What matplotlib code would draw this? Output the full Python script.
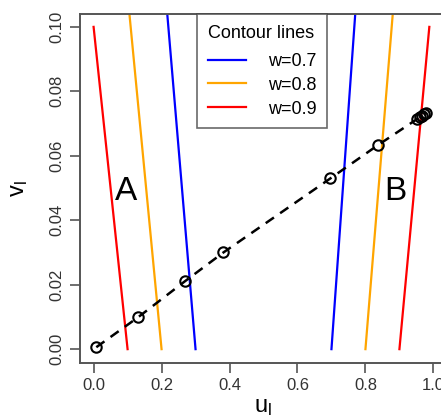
import numpy as np
import matplotlib
matplotlib.use('Agg')
import matplotlib.pyplot as plt

plt.rcParams['font.family'] = ['Liberation Sans', 'DejaVu Sans']

# path points (open circles on dashed line)
u_pts = [0.008, 0.131, 0.268, 0.382, 0.697, 0.838, 0.952, 0.960, 0.966, 0.972, 0.977]
v_pts = [0.0006, 0.0099, 0.021, 0.030, 0.053, 0.0634, 0.0714, 0.0720, 0.0725, 0.0729, 0.0733]

# contour lines: u at the given v ends
v_long = [0.0, 0.11]
v_short = [0.0, 0.10]
levels = ['w=0.7', 'w=0.8', 'w=0.9']
colors = ['#0000FF', '#FFA500', '#FF0000']
u_left = {'w=0.7': [0.30, 0.212], 'w=0.8': [0.20, 0.100], 'w=0.9': [0.10, 0.0]}
u_right = {'w=0.7': [0.70, 0.774], 'w=0.8': [0.80, 0.885], 'w=0.9': [0.90, 0.988]}
v_ends = {'w=0.7': v_long, 'w=0.8': v_long, 'w=0.9': v_short}

xticks = [0.0, 0.2, 0.4, 0.6, 0.8, 1.0]
yticks = [0.00, 0.02, 0.04, 0.06, 0.08, 0.10]

fig = plt.figure(figsize=(4.41, 4.19), dpi=100)
ax = fig.add_axes([80/441, 56/419, 367/441, 349/419])

for lev, col in zip(levels, colors):
    ax.plot(u_left[lev], v_ends[lev], color=col, lw=1.6, label=lev)
    ax.plot(u_right[lev], v_ends[lev], color=col, lw=1.6)

ax.plot(u_pts, v_pts, color='black', lw=1.8, linestyle=(0, (4, 3)))
ax.plot(u_pts, v_pts, linestyle='none', marker='o', ms=7.5,
        mfc='none', mec='black', mew=1.5)

ax.text(0.097, 0.049, 'A', fontsize=24, ha='center', va='center')
ax.text(0.888, 0.049, 'B', fontsize=24, ha='center', va='center')

ax.set_xlim(-0.04, 1.04)
ax.set_ylim(-0.0043, 0.104)
ax.set_xticks(xticks)
ax.set_xticklabels([f'{t:.1f}' for t in xticks])
ax.set_yticks(yticks)
ax.set_yticklabels([f'{t:.2f}' for t in yticks])
for lab in ax.get_yticklabels():
    lab.set_rotation(90)
    lab.set_va('center')

ax.tick_params(direction='out', length=7, width=1.2, colors='#555555',
               labelcolor='#333333', labelsize=12, pad=4)
for s in ax.spines.values():
    s.set_color('#555555')
    s.set_linewidth(1.4)

ax.set_xlabel(r'$\mathregular{u_l}$', fontsize=17, labelpad=2)
ax.set_ylabel(r'$\mathregular{v_l}$', fontsize=17, labelpad=14)

leg = ax.legend(loc='upper left', bbox_to_anchor=(0.32, 1.0), title='Contour lines',
                fontsize=13, title_fontsize=13, frameon=True, fancybox=False,
                borderaxespad=0, handlelength=2.1, labelspacing=0.38,
                borderpad=0.6, handletextpad=1.2)
leg._legend_box.sep = 8
leg.get_frame().set_edgecolor('#444444')
leg.get_frame().set_linewidth(1.2)
leg._legend_box.align = 'left'

fig.savefig('out.png', dpi=100)
